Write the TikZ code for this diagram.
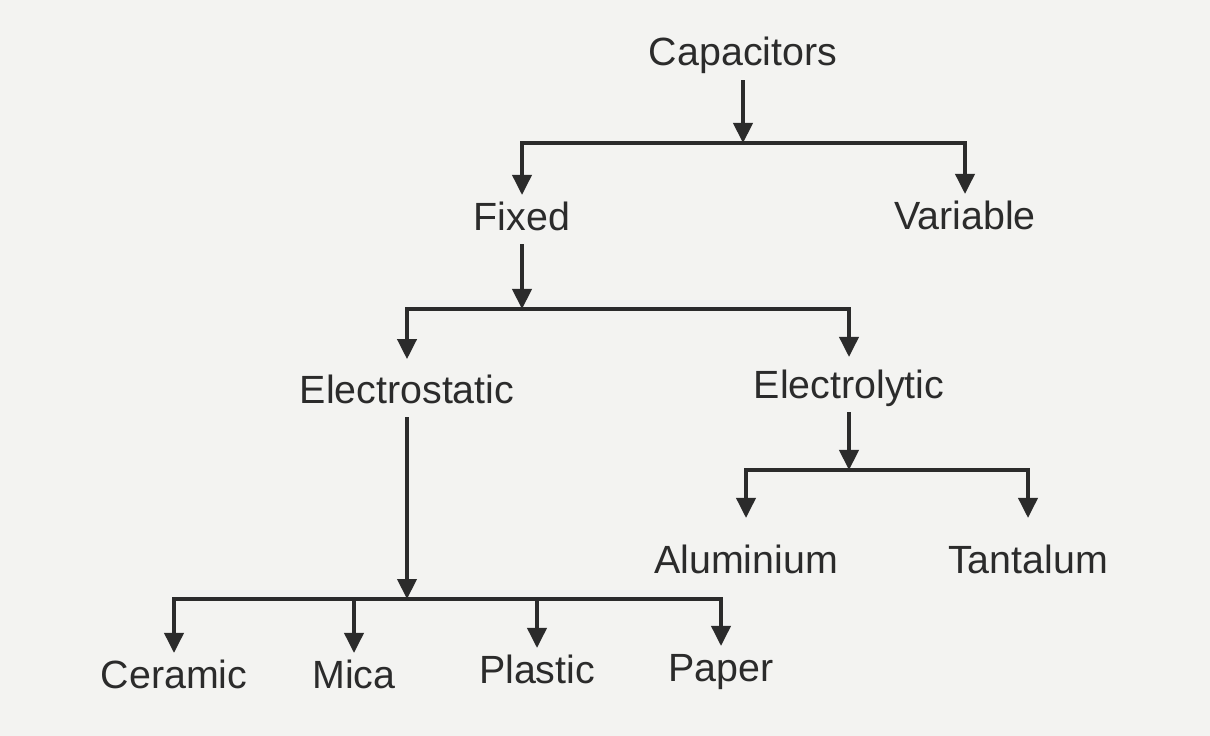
\documentclass[tikz,border=0pt]{standalone}
\usepackage{fontspec}
\setmainfont{Liberation Sans}
\usetikzlibrary{arrows.meta}
\definecolor{ink}{HTML}{2B2B2B}
\definecolor{sheet}{HTML}{F3F3F1}
\tikzset{
  item/.style={anchor=base, font=\fontsize{28}{34}\selectfont, text=ink,
    text height=0.72cm, text depth=0.2cm, inner sep=0.15cm},
  link/.style={draw=ink, line width=0.085cm,
    -{Triangle[width=0.48cm,length=0.5cm]}}
}
\begin{document}
\begin{tikzpicture}[x=0.025cm,y=-0.025cm]
    \fill[sheet] (0,0) rectangle (1210,736);
    % the names
    \node[item] (cap)   at (743,66)  {Capacitors};
    \node[item] (fixed) at (522,230) {Fixed};
    \node[item] (var)   at (965,229) {Variable};
    \node[item] (estat) at (407,403) {Electrostatic};
    \node[item] (elyt)  at (849,398) {Electrolytic};
    \node[item] (alu)   at (746,573) {Aluminium};
    \node[item] (tant)  at (1028,573) {Tantalum};
    \node[item] (cer)   at (174,688) {Ceramic};
    \node[item] (mica)  at (354,688) {Mica};
    \node[item] (plas)  at (537,683) {Plastic};
    \node[item] (pap)   at (721,681) {Paper};
    % the bars
    \coordinate (capbar) at (743,143);
    \coordinate (fixbar) at (522,309);
    \coordinate (elybar) at (849,470);
    \coordinate (estbar) at (407,599);
    \draw[link] (cap) -- (capbar);
    \draw[link] (capbar) -| (fixed);
    \draw[link] (capbar) -| (var);
    \draw[link] (fixed) -- (fixbar);
    \draw[link,shorten >=0.22cm] (fixbar) -| (estat);
    \draw[link,shorten >=0.15cm] (fixbar) -| (elyt);
    \draw[link] (elyt) -- (elybar);
    \draw[link,shorten >=0.5cm] (elybar) -| (alu);
    \draw[link,shorten >=0.5cm] (elybar) -| (tant);
    \draw[link] (estat) -- (estbar);
    \foreach \leaf in {cer,mica,plas,pap}
      \draw[link] (estbar) -| (\leaf);
  \end{tikzpicture}
\end{document}
